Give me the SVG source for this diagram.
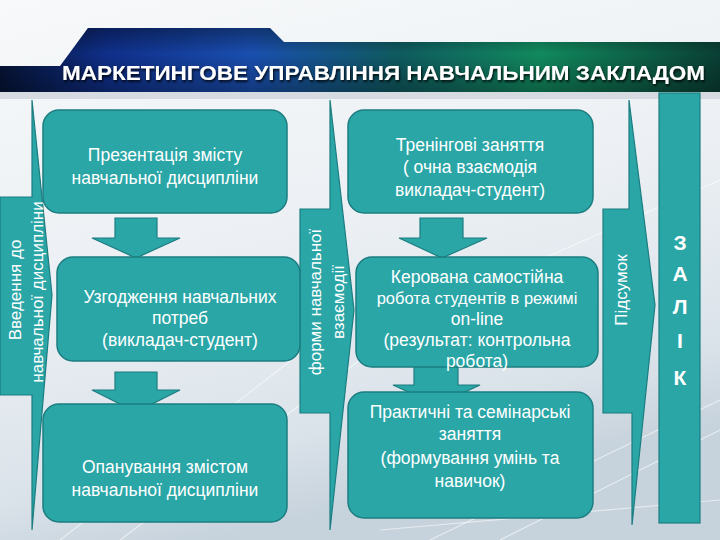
<svg xmlns="http://www.w3.org/2000/svg" width="720" height="540" viewBox="0 0 720 540">
<defs>
<linearGradient id="bg" x1="0" y1="0" x2="0.3" y2="1">
<stop offset="0" stop-color="#f7f9fa"/>
<stop offset="0.5" stop-color="#ecf0f4"/>
<stop offset="0.85" stop-color="#dbe3ea"/>
<stop offset="1" stop-color="#c6d2dc"/>
</linearGradient>
<linearGradient id="band" x1="0" y1="0" x2="1" y2="0">
<stop offset="0" stop-color="#061436"/>
<stop offset="0.15" stop-color="#0f2f8a"/>
<stop offset="0.35" stop-color="#1a4fb0"/>
<stop offset="0.55" stop-color="#0f5a60"/>
<stop offset="0.75" stop-color="#118a5e"/>
<stop offset="1" stop-color="#0a3f35"/>
</linearGradient>
<linearGradient id="bandShade" x1="0" y1="0" x2="0" y2="1">
<stop offset="0" stop-color="#000" stop-opacity="0.35"/>
<stop offset="0.4" stop-color="#000" stop-opacity="0"/>
<stop offset="1" stop-color="#000" stop-opacity="0.3"/>
</linearGradient>
<filter id="sh" x="-5%" y="-20%" width="110%" height="140%">
<feGaussianBlur in="SourceAlpha" stdDeviation="1.2"/>
<feOffset dx="1" dy="1.5" result="b"/>
<feFlood flood-color="#000" flood-opacity="0.8"/>
<feComposite in2="b" operator="in"/>
<feMerge><feMergeNode/><feMergeNode in="SourceGraphic"/></feMerge>
</filter>
</defs>
<style>
.box{fill:#2aa6a7;stroke:#1b7d80;stroke-width:1.5}
.shape{fill:#2aa6a7;stroke:#1b7d80;stroke-width:1.2}
.t{font-family:"Liberation Sans",Arial,sans-serif;font-size:17.5px;fill:#ffffff;text-anchor:middle}
.t.s{font-size:16.5px}
.rt{font-family:"Liberation Sans",Arial,sans-serif;font-size:17px;fill:#ffffff;text-anchor:middle}
.z{font-family:"Liberation Sans",Arial,sans-serif;font-size:21px;font-weight:bold;fill:#ffffff;text-anchor:middle}
.title{font-family:"Liberation Sans",Arial,sans-serif;font-size:21px;font-weight:bold;fill:#ffffff}
.arr{fill:#2aa6a7;stroke:#1b7d80;stroke-width:1.2}
.streak{stroke:#ffffff;stroke-opacity:0.55;stroke-width:1.2;fill:none}
</style>
<rect x="0" y="0" width="720" height="540" fill="url(#bg)"/>
<g id="streaks">
<path class="streak" d="M60 540 L330 330"/>
<path class="streak" d="M120 540 L360 360"/>
<path class="streak" d="M430 540 L720 400"/>
<path class="streak" d="M500 540 L720 430"/>
<path class="streak" d="M380 530 L720 500"/>
<path class="streak" d="M540 260 L720 180"/>
</g>
<g id="header">
<path d="M88 28 L270 28 L284 42 L720 42 L720 92 L0 92 L0 66 L60 66 Z" fill="url(#band)"/>
<path d="M88 28 L270 28 L284 42 L720 42 L720 92 L0 92 L0 66 L60 66 Z" fill="url(#bandShade)"/>
<rect x="0" y="92" width="720" height="7" fill="#d5dbe0"/>
<text class="title" x="62" y="80" textLength="643" lengthAdjust="spacingAndGlyphs" filter="url(#sh)">МАРКЕТИНГОВЕ УПРАВЛІННЯ НАВЧАЛЬНИМ ЗАКЛАДОМ</text>
</g>
<g id="connectors">
<path class="arr" d="M115 218 L157 218 L157 238 L180 238 L136 258 L92 238 L115 238 Z"/>
<path class="arr" d="M115 372 L157 372 L157 390 L180 390 L136 412 L92 390 L115 390 Z"/>
<path class="arr" d="M420 218 L463 218 L463 238 L487 238 L442 258 L399 238 L420 238 Z"/>
<path class="arr" d="M414 340 L458 340 L458 385 L480 385 L437 405 L393 385 L414 385 Z"/>
</g>
<g id="intro">
<path class="shape" d="M32 100 L52 295 L32 530 L32 395 L0 395 L0 197 L32 197 Z"/>
<text class="rt" transform="translate(21 290) rotate(-90)">Введення до</text>
<text class="rt" transform="translate(43 292) rotate(-90)">навчальної дисципліни</text>
</g>
<g id="forms">
<path class="shape" d="M330 100 L354 310 L330 530 L330 413 L300 413 L300 209 L330 209 Z"/>
<text class="rt" transform="translate(321 302) rotate(-90)">форми навчальної</text>
<text class="rt" transform="translate(344 302) rotate(-90)">взаємодії</text>
</g>
<g id="summary">
<path class="shape" d="M629 100 L655 305 L632 525 L632 413 L603 413 L603 209 L629 209 Z"/>
<text class="rt" transform="translate(627 290) rotate(-90)">Підсумок</text>
</g>
<g id="zalik">
<rect class="shape" x="659" y="93" width="41" height="430"/>
<text class="z" x="680" y="250">З</text>
<text class="z" x="680" y="281">А</text>
<text class="z" x="680" y="314">Л</text>
<text class="z" x="680" y="348">І</text>
<text class="z" x="680" y="385">К</text>
</g>
<g id="box1">
<rect class="box" x="43" y="110" width="244" height="103" rx="16"/>
<text class="t" x="165" y="161">Презентація змісту</text>
<text class="t" x="165" y="184">навчальної дисципліни</text>
</g>
<g id="box2">
<rect class="box" x="57" y="257" width="243" height="104" rx="16"/>
<text class="t" x="180" y="303">Узгодження навчальних</text>
<text class="t" x="180" y="324">потреб</text>
<text class="t" x="180" y="346">(викладач-студент)</text>
</g>
<g id="box3">
<rect class="box" x="43" y="404" width="244" height="118" rx="16"/>
<text class="t" x="165" y="473">Опанування змістом</text>
<text class="t" x="165" y="496">навчальної дисципліни</text>
</g>
<g id="box4">
<rect class="box" x="348" y="110" width="245" height="103" rx="16"/>
<text class="t" x="470" y="151">Тренінгові заняття</text>
<text class="t" x="470" y="173">( очна взаємодія</text>
<text class="t" x="470" y="196">викладач-студент)</text>
</g>
<g id="box5">
<rect class="box" x="356" y="257" width="242" height="110" rx="16"/>
<text class="t" x="477" y="283">Керована самостійна</text>
<text class="t s" x="477" y="304">робота студентів в режимі</text>
<text class="t" x="477" y="325">on-line</text>
<text class="t" x="477" y="346">(результат: контрольна</text>
<text class="t" x="477" y="367">робота)</text>
</g>
<g id="box6">
<rect class="box" x="348" y="392" width="245" height="126" rx="16"/>
<text class="t" x="470" y="418">Практичні  та семінарські</text>
<text class="t" x="470" y="440">заняття</text>
<text class="t" x="470" y="464">(формування умінь та</text>
<text class="t" x="470" y="487">навичок)</text>
</g>
</svg>
